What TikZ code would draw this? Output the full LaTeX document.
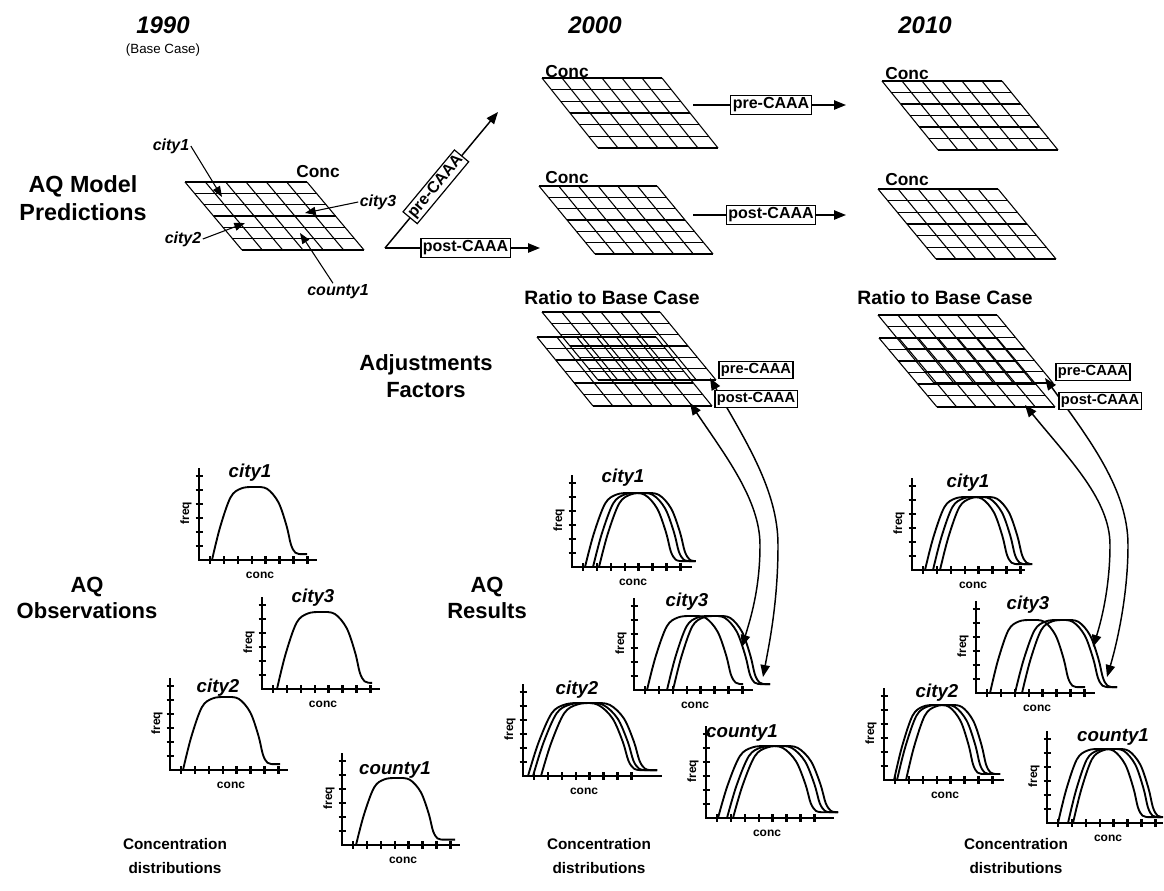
\documentclass[tikz,border=0pt]{standalone}
\usepackage{fontspec}
\setmainfont{Liberation Sans}
\usetikzlibrary{arrows.meta,calc}

\newcommand\pgrid[5]{%
  \foreach \i in {0,...,6}{%
    \draw[gridline] ({#1+#5*\i/6},{#2+#4*\i/6}) -- ++(#3,0);
    \draw[gridline] ({#1+#3*\i/6},#2) -- ++(#5,#4);
  }}

\newcommand\bell[4]{%
  \draw[curve] plot[smooth,tension=0.55] coordinates {(#1,0)
   ({#1+0.1*#2},{-0.45*#3}) ({#1+0.23*#2},{-0.86*#3}) ({#1+0.36*#2},{-0.98*#3})
   ({#1+0.52*#2},{-#3}) ({#1+0.68*#2},{-0.975*#3})
   ({#1+0.82*#2},{-0.79*#3}) ({#1+0.92*#2},{-0.47*#3}) ({#1+0.975*#2},{-0.21*#3})
   ({#1+1.03*#2},{-0.1*#3}) ({#1+1.1*#2},{-0.08*#3})} -- ({#4},{-0.08*#3});}

\newcommand\plotaxes[5]{%
  \draw[axis] (0,-92) -- (0,0) -- (#2,0);
  \foreach \k in {1,...,6} \draw[axis] ({-3.5},{-14*\k}) -- ({3.5},{-14*\k});
  \foreach \k in {0,...,7} \draw[axis] ({11+13.9*\k},-4) -- ({11+13.9*\k},3.5);
  \node[axlbl,rotate=90] (#1-f) at (-13,-47) {freq};
  \node[axlbl] (#1-c) at (61,15) {conc};
  \node[ptitle] (#1-t) at (#4,#5) {#3};}

\begin{document}
\begin{tikzpicture}[x=0.75pt,y=-0.75pt,
  gridline/.style={line width=0.8pt},
  axis/.style={line width=1.8pt},
  curve/.style={line width=1.4pt},
  axlbl/.style={font=\bfseries\fontsize{9}{10}\selectfont, inner sep=0pt},
  ptitle/.style={font=\bfseries\itshape\fontsize{14}{16}\selectfont, inner sep=0pt},
  year/.style={font=\bfseries\itshape\fontsize{18}{20}\selectfont, inner sep=0pt},
  base/.style={font=\fontsize{10}{12}\selectfont, inner sep=0pt},
  side/.style={font=\bfseries\fontsize{16.5}{20}\selectfont, align=center, inner sep=0pt},
  bottomlbl/.style={font=\bfseries\fontsize{11.5}{18.5}\selectfont, align=center, inner sep=0pt},
  conc/.style={font=\bfseries\fontsize{13}{14}\selectfont, inner sep=0pt},
  ratio/.style={font=\bfseries\fontsize{14.5}{16}\selectfont, inner sep=0pt},
  gcity/.style={font=\bfseries\itshape\fontsize{12}{14}\selectfont, inner sep=1pt},
  box/.style={draw, fill=white, line width=0.9pt, inner sep=1.5pt, font=\bfseries\fontsize{12}{14}\selectfont},
  sbox/.style={draw, fill=white, line width=0.9pt, inner sep=1.5pt, font=\bfseries\fontsize{11}{13}\selectfont},
  arr/.style={line width=1.1pt, -{Triangle[length=9pt,width=7pt]}},
  tarr/.style={line width=0.8pt, -{Triangle[length=8pt,width=6pt]}},
  dbl/.style={line width=1.1pt, {Triangle[length=9pt,width=7pt]}-{Triangle[length=9pt,width=7pt]}}]
\useasboundingbox (0,0) rectangle (1164,890);

% headings
\node[year] (y1990) at (163,25) {1990};
\node[base] (bc) at (163,50) {(Base Case)};
\node[year] (y2000) at (595,25) {2000};
\node[year] (y2010) at (925,25) {2010};

% side labels
\node[side, font=\bfseries\fontsize{17.5}{20.5}\selectfont] (pred) at (83,198) {AQ Model\\Predictions};
\node[side] (adj) at (426,376) {Adjustments\\Factors};
\node[side] (obs) at (87,598) {AQ\\Observations};
\node[side] (res) at (487,598) {AQ\\Results};

% bottom labels
\node[bottomlbl] (cd1) at (175,856) {Concentration\\distributions};
\node[bottomlbl] (cd2) at (599,856) {Concentration\\distributions};
\node[bottomlbl] (cd3) at (1016,856) {Concentration\\distributions};

% 1990 grid
\pgrid{185}{182}{122}{68}{57}
\node[conc] (conc1990) at (318,172) {Conc};
\coordinate (gc1) at (222,197);
\coordinate (gc3) at (305,213);
\coordinate (gc2) at (245,223);
\coordinate (gcy) at (300,233);
\node[gcity] (lc1) at (171,146) {city1};
\node[gcity] (lc3) at (378,202) {city3};
\node[gcity] (lc2) at (183,239) {city2};
\node[gcity] (lcy) at (338,292) {county1};
\draw[tarr] (lc1.east) -- (gc1);
\draw[tarr] (lc3.west) -- (gc3);
\draw[tarr] (lc2.east) -- (gc2);
\draw[tarr] ($(lcy.north)+(-5,0)$) -- (gcy);

% 1990 -> 2000
\coordinate (corner) at (385,248);
\coordinate (preT) at (498,112);
\coordinate (postT) at (540,248);
\draw[arr] (corner) -- (preT) node[box, sloped, pos=0.45] (bpre0) {pre-CAAA};
\draw[arr] (corner) -- (postT) node[box, pos=0.52] (bpost0) {post-CAAA};

% 2000 grids
\pgrid{542}{78}{120}{70}{56}
\pgrid{539}{186}{118}{68}{56}
\node[conc] (conc2000a) at (567,72) {Conc};
\node[conc] (conc2000b) at (567,178) {Conc};

% 2000 -> 2010
\coordinate (a1s) at (693,105);
\coordinate (a1e) at (846,105);
\coordinate (a2s) at (693,215);
\coordinate (a2e) at (846,215);
\draw[arr] (a1s) -- (a1e) node[box, pos=0.51] (bpre1) {pre-CAAA};
\draw[arr] (a2s) -- (a2e) node[box, pos=0.51] (bpost1) {post-CAAA};

% 2010 grids
\pgrid{882}{81}{120}{69}{56}
\pgrid{878}{189}{120}{70}{58}
\node[conc] (conc2010a) at (907,74) {Conc};
\node[conc] (conc2010b) at (907,180) {Conc};

% ratio grids
\node[ratio] (rat2000) at (612,298) {Ratio to Base Case};
\node[ratio] (rat2010) at (945,298) {Ratio to Base Case};
\pgrid{542}{312}{118}{68}{56}
\pgrid{537}{337}{119}{69}{56}
\pgrid{878}{315}{119}{68}{56}
\pgrid{879}{338}{118}{69}{58}

% long curved connectors 2000
\coordinate (r0pre) at (710,378);
\coordinate (r0post) at (690,403);
\coordinate (p0pre) at (763,677);
\coordinate (p0post) at (742,647);
\draw[dbl] (r0post) .. controls (725,455) and (760,500) .. (760,545) .. controls (760,590) and (750,620) .. (p0post);
\draw[dbl] (r0pre) .. controls (745,440) and (778,490) .. (778,545) .. controls (778,600) and (770,640) .. (p0pre);
\node[sbox] (rpre0) at (756,370) {pre-CAAA};
\node[sbox] (rpost0) at (756,399) {post-CAAA};

% long curved connectors 2010
\coordinate (r1pre) at (1045,378);
\coordinate (r1post) at (1025,405);
\coordinate (p1pre) at (1107,677);
\coordinate (p1post) at (1093,647);
\draw[dbl] (r1post) .. controls (1070,460) and (1110,500) .. (1110,545) .. controls (1110,590) and (1100,625) .. (p1post);
\draw[dbl] (r1pre) .. controls (1090,440) and (1128,490) .. (1128,545) .. controls (1128,600) and (1115,650) .. (p1pre);
\node[sbox] (rpre1) at (1093,372) {pre-CAAA};
\node[sbox] (rpost1) at (1100,401) {post-CAAA};

% ---- 1990 observations
\begin{scope}[shift={(199,560)}]
 \plotaxes{oa}{118}{city1}{51}{-87}
 \bell{13}{81}{73}{108}
\end{scope}
\begin{scope}[shift={(262,689)}]
 \plotaxes{ob}{118}{city3}{51}{-91}
 \bell{15}{85}{77}{110}
\end{scope}
\begin{scope}[shift={(170,770)}]
 \plotaxes{oc}{118}{city2}{48}{-82}
 \bell{13}{82}{73}{110}
\end{scope}
\begin{scope}[shift={(342,845)}]
 \plotaxes{od}{118}{county1}{53}{-75}
 \bell{14}{79}{67}{113}
\end{scope}

% ---- 2000 results
\begin{scope}[shift={(572,567)}]
 \plotaxes{ra}{120}{city1}{51}{-89}
 \bell{13}{88}{74}{123}
 \bell{21}{88}{74}{123}
 \bell{27}{88}{74}{123}
\end{scope}
\begin{scope}[shift={(634,690)}]
 \plotaxes{rb}{119}{city3}{53}{-88}
 \bell{13}{86}{74}{109}
 \bell{33}{85}{74}{136}
 \bell{39}{84}{74}{136}
\end{scope}
\begin{scope}[shift={(523,776)}]
 \plotaxes{rc}{139}{city2}{54}{-86}
 \bell{5}{103}{73}{134}
 \bell{10}{103}{73}{134}
 \bell{18}{101}{73}{134}
\end{scope}
\begin{scope}[shift={(706,818)}]
 \plotaxes{rd}{128}{county1}{36}{-85}
 \bell{12}{95}{72}{132}
 \bell{21}{95}{72}{132}
 \bell{27}{95}{72}{132}
\end{scope}

% ---- 2010 results
\begin{scope}[shift={(912,570)}]
 \plotaxes{sa}{113}{city1}{56}{-87}
 \bell{13}{84}{73}{118}
 \bell{21}{84}{73}{118}
 \bell{28}{84}{73}{118}
\end{scope}
\begin{scope}[shift={(976,693)}]
 \plotaxes{sb}{119}{city3}{52}{-88}
 \bell{14}{80}{73}{109}
 \bell{39}{85}{73}{141}
 \bell{46}{83}{73}{141}
\end{scope}
\begin{scope}[shift={(884,780)}]
 \plotaxes{sc}{120}{city2}{53}{-87}
 \bell{10}{81}{75}{116}
 \bell{13}{85}{75}{116}
 \bell{22}{82}{75}{116}
\end{scope}
\begin{scope}[shift={(1047,823)}]
 \plotaxes{sd}{116}{county1}{66}{-86}
 \bell{11}{82}{74}{114}
 \bell{21}{82}{74}{114}
 \bell{26}{82}{74}{114}
\end{scope}
\end{tikzpicture}
\end{document}
